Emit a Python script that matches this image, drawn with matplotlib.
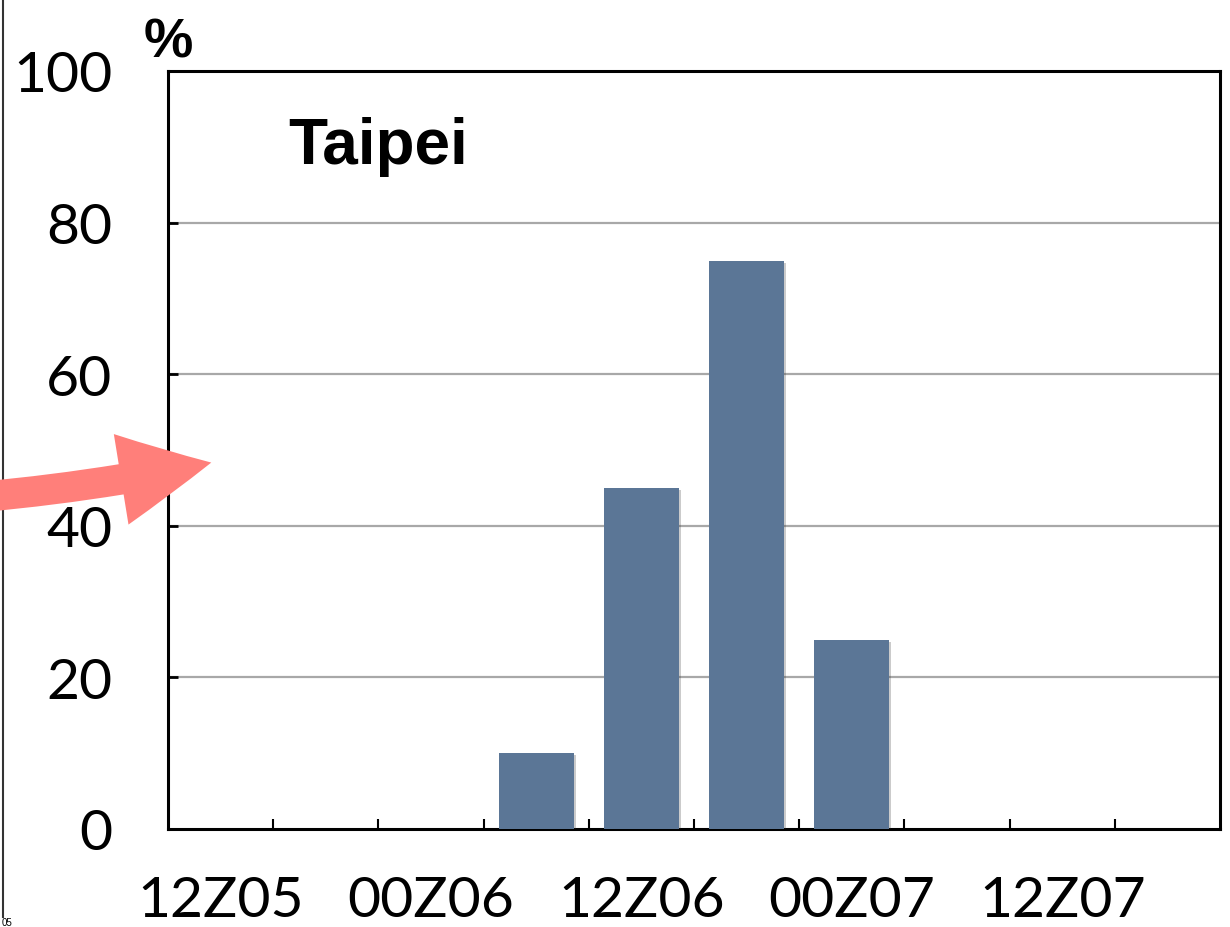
import matplotlib
matplotlib.use("Agg")
import matplotlib.pyplot as plt
import matplotlib.patheffects as pe
from matplotlib.patches import FancyArrowPatch
from matplotlib.lines import Line2D
import numpy as np

# ---- data ----
bins = list(range(10))                       # 12-hour bins starting at 12Z05
values = [0, 0, 0, 10, 45, 75, 25, 0, 0, 0]  # percent
tick_labels = ["12Z05", "00Z06", "12Z06", "00Z07", "12Z07"]
label_bins = [0, 2, 4, 6, 8]
yticks = [0, 20, 40, 60, 80, 100]
title = "Taipei"

W, H = 1230, 928
fig = plt.figure(figsize=(W / 100, H / 100), dpi=100)
ax = fig.add_axes([168 / W, 1 - 830 / H, (1220 - 168) / W, (830 - 72) / H])

tick_font = "Lato"

x = np.array(bins) + 0.5
bars = ax.bar(x, values, width=0.715, color="#5b7696", zorder=3)
for b in bars:
    b.set_path_effects([pe.SimplePatchShadow(offset=(1.5, -1.5), alpha=0.25, shadow_rgbFace="#333333"), pe.Normal()])

ax.set_xlim(0, 10)
ax.set_ylim(0, 100)

# grid lines
for y in [20, 40, 60, 80]:
    ax.axhline(y, color="#a8a8a8", lw=1.6, zorder=1)

# x ticks: boundaries as minor ticks, labels at bin centers
ax.set_xticks(np.arange(1, 10), minor=True)
ax.set_xticks(np.array(label_bins) + 0.5)
ax.set_xticklabels(tick_labels, fontsize=41, family=tick_font)
ax.tick_params(axis="x", which="major", length=0, pad=33)
ax.tick_params(axis="x", which="minor", direction="in", length=7, width=1.5, color="black")

ax.set_yticks(yticks)
ax.set_yticklabels([str(v) for v in yticks], fontsize=41, family=tick_font)
ax.tick_params(axis="y", direction="in", length=7, width=2, pad=40)

for s in ax.spines.values():
    s.set_linewidth(2.2)
    s.set_color("black")

ax.text(120 / (1220 - 168), 1 - (164 - 72) / (830 - 72), title, transform=ax.transAxes,
        fontsize=46, fontweight="bold", family="Liberation Sans", va="baseline", ha="left")

fig.text(168 / W, 1 - 57 / H, "%", fontsize=40, fontweight="bold", family="Liberation Sans",
         ha="center", va="baseline")

# left frame line and small stray text
fig.add_artist(Line2D([3 / W, 3 / W], [1 - 918 / H, 1.0], color="#333333", lw=1.5, transform=fig.transFigure))
fig.text(2 / W, 1 - 926 / H, "05", fontsize=7, family="Liberation Sans", ha="left", va="baseline")

# annotation arrow
arrow = FancyArrowPatch((-20 / W, 1 - 498 / H), (214 / W, 1 - 463 / H),
                        transform=fig.transFigure,
                        arrowstyle="simple,head_length=66,head_width=66,tail_width=22",
                        connectionstyle="arc3,rad=0.03",
                        mutation_scale=1, color="#ff7f7a", lw=0, zorder=10)
fig.add_artist(arrow)

fig.savefig("out.png", dpi=100)
